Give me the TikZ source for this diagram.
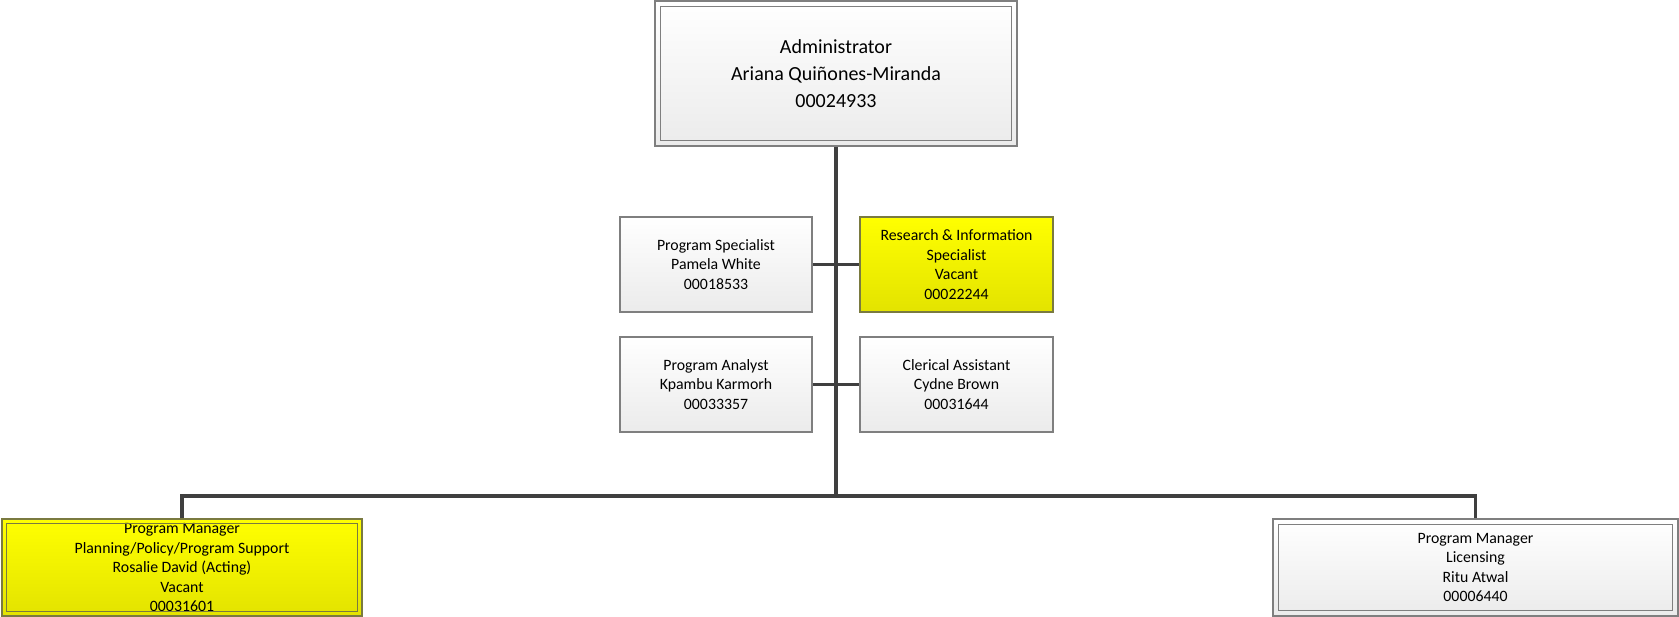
\documentclass[tikz,border=0pt]{standalone}
\usepackage{fontspec}
\setmainfont{Carlito}
\usetikzlibrary{positioning}

\definecolor{boxline}{HTML}{7F7F7F}
\definecolor{boxgray}{HTML}{EBEBEB}
\definecolor{vacantdim}{HTML}{E3E300}
\definecolor{vacantline}{HTML}{7A7A40}
\definecolor{linkgray}{HTML}{3F3F3F}

\tikzset{
	staffbox/.style={draw=boxline, line width=1.2pt, top color=white, bottom color=boxgray,
		inner sep=0pt, align=center, font=\fontsize{15.8}{19.5}\selectfont},
	vacantbox/.style={staffbox, draw=vacantline, top color=yellow, bottom color=vacantdim},
	innerline/.style={draw=boxline, line width=1pt},
	link/.style={draw=linkgray, line width=3.2pt, line join=miter},
}

\begin{document}
\begin{tikzpicture}[x=1pt, y=-1pt]
	% Parameters (pixel units, y grows downwards)
	\def\trunkx{836}
	\def\busy{496}
	\def\smallw{192}
	\def\smallh{95}
	\def\inset{6}

	\useasboundingbox (0,0) rectangle (1679,616);

	% Administrator
	\node[staffbox, minimum width=362pt, minimum height=145pt, font=\fontsize{20}{27}\selectfont]
		(adm) at (\trunkx,73.5) {Administrator\\Ariana Quiñones-Miranda\\00024933};
	\draw[innerline] ([shift={(\inset,\inset)}]adm.north west) rectangle ([shift={(-\inset,-\inset)}]adm.south east);

	% Staff reporting directly
	\node[staffbox, minimum width=\smallw pt, minimum height=\smallh pt]
		(spec) at (716,264.5) {Program Specialist\\Pamela White\\00018533};
	\node[vacantbox, minimum width=193pt, minimum height=\smallh pt]
		(research) at (956.5,264.5) {Research \& Information\\Specialist\\Vacant\\00022244};
	\node[staffbox, minimum width=\smallw pt, minimum height=\smallh pt]
		(analyst) at (716,384.5) {Program Analyst\\Kpambu Karmorh\\00033357};
	\node[staffbox, minimum width=193pt, minimum height=\smallh pt]
		(clerical) at (956.5,384.5) {Clerical Assistant\\Cydne Brown\\00031644};

	% Program managers
	\node[vacantbox, minimum width=360pt, minimum height=97pt]
		(pmplan) at (182,567.5) {Program Manager\\Planning/Policy/Program Support\\Rosalie David (Acting)\\Vacant\\00031601};
	\draw[innerline, draw=vacantline] ([shift={(5,5)}]pmplan.north west) rectangle ([shift={(-5,-5)}]pmplan.south east);
	\node[staffbox, minimum width=405pt, minimum height=97pt]
		(pmlic) at (1475.5,567.5) {Program Manager\\Licensing\\Ritu Atwal\\00006440};
	\draw[innerline] ([shift={(6,6)}]pmlic.north west) rectangle ([shift={(-6,-6)}]pmlic.south east);

	% Connectors
	\coordinate (bus) at (\trunkx,\busy);
	\draw[link] (adm.south) -- (bus);
	\draw[link] (spec.east) -- (research.west);
	\draw[link] (analyst.east) -- (clerical.west);
	\draw[link] (pmplan.north) |- (bus) -| (pmlic.north);
\end{tikzpicture}
\end{document}
